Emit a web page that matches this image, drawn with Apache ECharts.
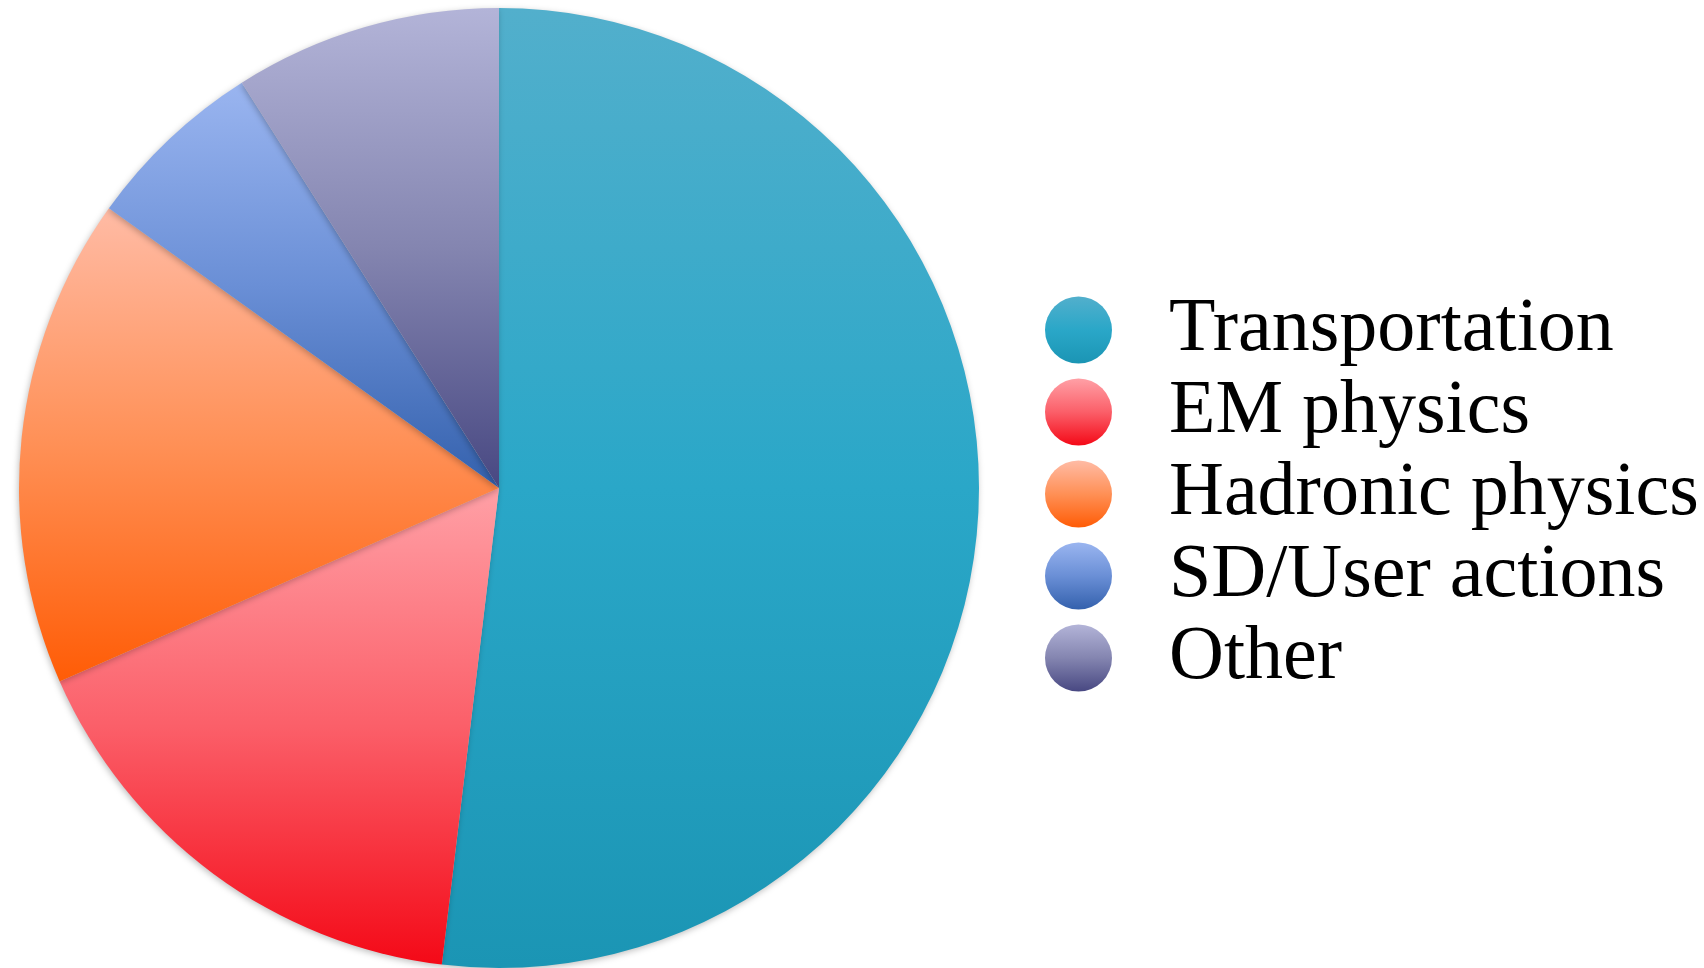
<!DOCTYPE html>
<html>
<head>
<meta charset="utf-8">
<script src="https://cdn.jsdelivr.net/npm/echarts@6/dist/echarts.min.js"></script>
<style>
  html, body { margin: 0; padding: 0; background: #ffffff; }
  #chart { width: 1704px; height: 968px; }
</style>
</head>
<body>
<div id="chart"></div>
<script>
// Share of time per component (percent)
const categories = ['Transportation', 'EM physics', 'Hadronic physics', 'SD/User actions', 'Other'];
const shares = [51.9, 16.5, 16.5, 6.1, 9.0];

// Vertical gradient per slice: [top, middle, bottom]
const sliceColors = [
  ['#52afcc', '#2aa7c8', '#1b95b4'],
  ['#ffa0a6', '#fb5f69', '#f40917'],
  ['#ffbba5', '#ff9056', '#ff5c06'],
  ['#9ab5f0', '#6a8fd6', '#3461ad'],
  ['#b3b4d8', '#8485b0', '#484882']
];

function grad(c) {
  return new echarts.graphic.LinearGradient(0, 0, 0, 1, [
    { offset: 0, color: c[0] },
    { offset: 0.5, color: c[1] },
    { offset: 1, color: c[2] }
  ]);
}

const chart = echarts.init(document.getElementById('chart'), null, { renderer: 'canvas' });

chart.setOption({
  animation: false,
  backgroundColor: '#ffffff',
  legend: {
    orient: 'vertical',
    left: 1040,
    top: 284,
    icon: 'circle',
    itemWidth: 67,
    itemHeight: 67,
    itemGap: 0,
    selectedMode: false,
    textStyle: {
      fontFamily: '"Liberation Serif", "Times New Roman", serif',
      fontSize: 76,
      color: '#000000',
      lineHeight: 82,
      padding: [0, 0, 0, 52]
    },
    data: categories
  },
  series: [{
    type: 'pie',
    center: [499, 488],
    radius: 480,
    startAngle: 90,
    clockwise: true,
    label: { show: false },
    labelLine: { show: false },
    emphasis: { disabled: true },
    itemStyle: {
      borderWidth: 0,
      shadowBlur: 6,
      shadowColor: 'rgba(0,0,0,0.25)',
      shadowOffsetX: -1,
      shadowOffsetY: 2
    },
    data: categories.map((name, i) => ({
      name: name,
      value: shares[i],
      itemStyle: { color: grad(sliceColors[i]) }
    }))
  }]
});
</script>
</body>
</html>
